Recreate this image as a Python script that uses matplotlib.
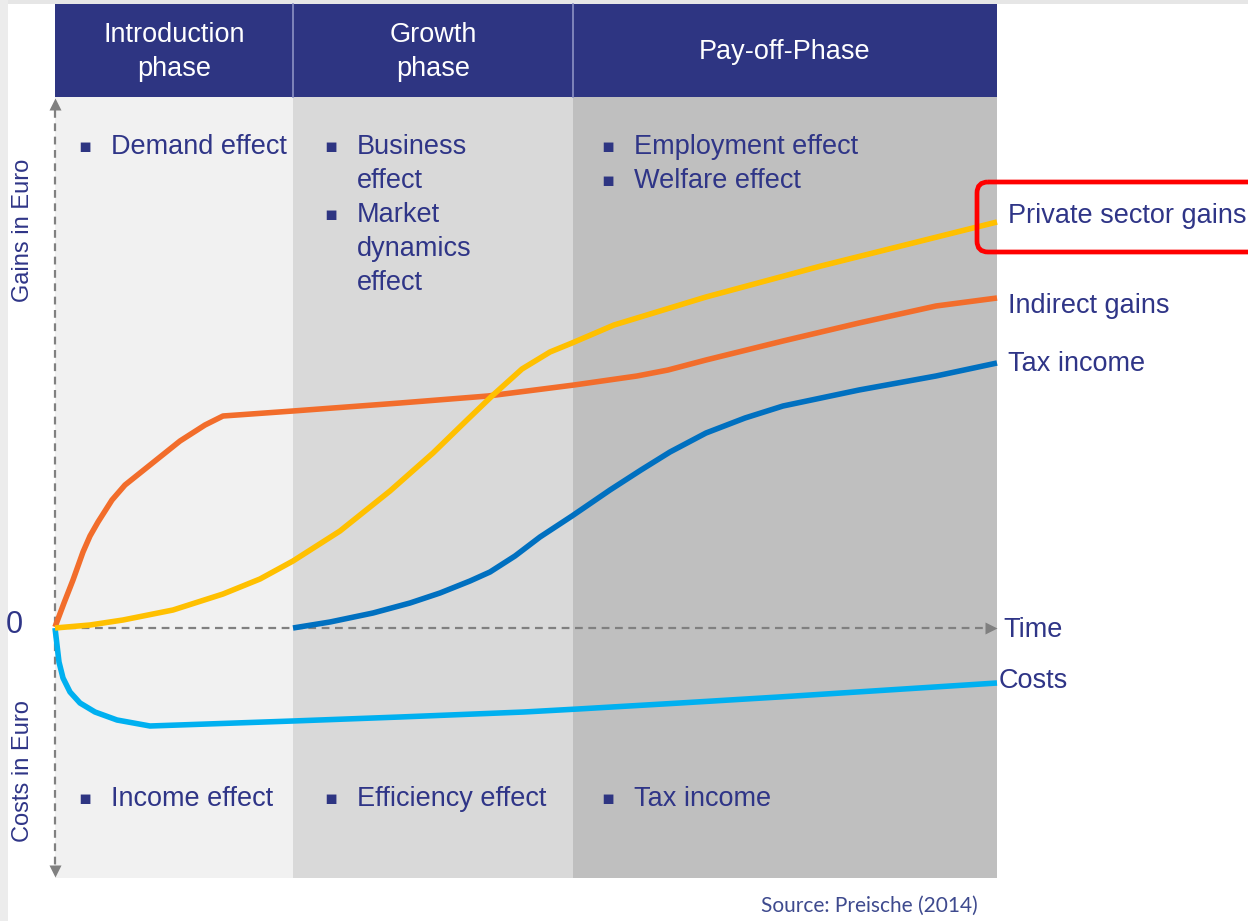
import matplotlib
matplotlib.use('Agg')
import matplotlib.pyplot as plt
from matplotlib.patches import Rectangle, FancyBboxPatch

# phases (time units)
phase_names = ['Introduction\nphase', 'Growth\nphase', 'Pay-off-Phase']
phase_edges = [0, 23.8, 51.8, 94.2]
phase_colors = ['#F1F1F1', '#D9D9D9', '#BFBFBF']

gain_bullets = [['Demand effect'],
                ['Business\neffect', 'Market\ndynamics\neffect'],
                ['Employment effect', 'Welfare effect']]
cost_bullets = ['Income effect', 'Efficiency effect', 'Tax income']

# curves: time vs. value (gains > 0, costs < 0)
indirect_t = [0, 0.9, 1.8, 2.8, 3.5, 4.3, 5.7, 7.0, 9.5, 12.5, 15.0, 16.8, 23.8, 34.5,
              43.3, 51.9, 58.2, 61.3, 65.1, 72.8, 80.4, 88.1, 94.2]
indirect_v = [0.1, 2.5, 4.8, 7.6, 9.2, 10.6, 12.8, 14.3, 16.3, 18.7, 20.3, 21.2, 21.7, 22.5,
              23.2, 24.3, 25.2, 25.8, 26.8, 28.7, 30.5, 32.2, 33.0]

private_t = [0, 3.5, 6.8, 11.8, 16.8, 20.5, 23.8, 28.5, 33.5, 37.8, 41.2, 43.7, 46.7,
             49.5, 51.7, 55.9, 60.5, 65.1, 76.6, 94.2]
private_v = [0, 0.3, 0.8, 1.8, 3.4, 4.9, 6.7, 9.7, 13.7, 17.5, 20.8, 23.2, 25.9,
             27.6, 28.5, 30.3, 31.7, 33.1, 36.2, 40.6]

tax_t = [23.8, 27.5, 31.8, 35.5, 38.5, 41.5, 43.5, 46.0, 48.5, 51.7, 55.5, 58.6, 61.5,
         65.1, 69.0, 72.8, 80.4, 88.1, 94.2]
tax_v = [0, 0.6, 1.5, 2.5, 3.5, 4.7, 5.6, 7.2, 9.1, 11.2, 13.8, 15.8, 17.6,
         19.5, 21.0, 22.2, 23.8, 25.2, 26.5]

costs_t = [0, 0.2, 0.4, 0.8, 1.5, 2.5, 4.0, 6.2, 9.5, 23.8, 34.5, 46.9, 52.3, 62.5, 72.4, 94.2]
costs_v = [0, -1.7, -3.4, -5.0, -6.4, -7.5, -8.4, -9.2, -9.8, -9.3, -8.9, -8.4, -8.1,
           -7.5, -6.9, -5.5]

NAVY = '#2E3582'
TXT = '#2F3587'
FONT = ['Liberation Sans', 'DejaVu Sans']
plt.rcParams['font.family'] = FONT

W, H = 1248, 921
fig = plt.figure(figsize=(W / 100, H / 100), dpi=100)
fig.patch.set_facecolor('white')

# main plotting area
left, right, top, bottom = 55, 997, 97, 878
ax = fig.add_axes([left / W, (H - bottom) / H, (right - left) / W, (bottom - top) / H])
ax.set_zorder(1)
ax.set_xlim(phase_edges[0], phase_edges[-1])
ax.set_ylim(-25.0, 53.1)
ax.axis('off')

# overlay in pixel coordinates for header / texts (drawn on top)
ov = fig.add_axes([0, 0, 1, 1])
ov.set_xlim(0, W)
ov.set_ylim(H, 0)
ov.axis('off')
ov.set_zorder(2)

# background strips of the slide
fig.patches.append(Rectangle((0, 1 - 4 / H), 1, 4 / H, transform=fig.transFigure,
                             color='#E6E6E6', lw=0, zorder=0))
fig.patches.append(Rectangle((0, 0), 8 / W, 1, transform=fig.transFigure,
                             color='#ECECEC', lw=0, zorder=0))

for i in range(3):
    ax.axvspan(phase_edges[i], phase_edges[i + 1], color=phase_colors[i], lw=0, zorder=0)


def to_px(t):
    return left + (right - left) * (t - phase_edges[0]) / (phase_edges[-1] - phase_edges[0])


# header band
ov.add_patch(Rectangle((left, 4), right - left, top - 4, color=NAVY, lw=0))
for i, name in enumerate(phase_names):
    a, b = to_px(phase_edges[i]), to_px(phase_edges[i + 1])
    ov.text((a + b) / 2, 52, name, color='white', fontsize=19.5, ha='center', va='center',
            linespacing=1.42)
    if i > 0:
        ov.plot([a, a], [4, top], color='#8C92C4', lw=1.2)

# bullets
bullet_x = [85, 331, 608]
text_x = [111, 357, 634]
for i, items in enumerate(gain_bullets):
    line = 0
    for item in items:
        ov.text(bullet_x[i], 146 + 34 * line, '\u25aa', color=NAVY, fontsize=14,
                ha='center', va='center', family=['DejaVu Sans'])
        for part in item.split('\n'):
            ov.text(text_x[i], 147 + 34 * line, part, color=TXT, fontsize=19.5,
                    ha='left', va='center')
            line += 1

for i, item in enumerate(cost_bullets):
    ov.text(bullet_x[i], 798, '\u25aa', color=NAVY, fontsize=14, ha='center', va='center',
            family=['DejaVu Sans'])
    ov.text(text_x[i], 799, item, color=TXT, fontsize=19.5, ha='left', va='center')

# axes (dashed arrows)
grey = '#808080'
ax.plot([0, 0], [51.8, -23.8], color=grey, lw=1.6, ls=(0, (3.5, 2.5)), clip_on=False, zorder=2)
ax.plot([0], [52.4], marker='^', ms=9, color=grey, mec='none', clip_on=False, zorder=2)
ax.plot([0], [-24.3], marker='v', ms=9, color=grey, mec='none', clip_on=False, zorder=2)
ax.plot([0, 93.0], [0, 0], color=grey, lw=1.6, ls=(0, (3.5, 2.5)), clip_on=False, zorder=2)
ax.plot([93.6], [0], marker='>', ms=9, color=grey, mec='none', clip_on=False, zorder=2)

# curves
lw = 4.0
ax.plot(costs_t, costs_v, color='#00B0F0', lw=lw, solid_capstyle='butt',
        solid_joinstyle='round', clip_on=False, zorder=3)
ax.plot(indirect_t, indirect_v, color='#F26D2B', lw=lw, solid_capstyle='butt',
        solid_joinstyle='round', clip_on=False, zorder=3)
ax.plot(tax_t, tax_v, color='#0070C0', lw=lw, solid_capstyle='butt',
        solid_joinstyle='round', clip_on=False, zorder=3)
ax.plot(private_t, private_v, color='#FFC000', lw=lw, solid_capstyle='butt',
        solid_joinstyle='round', clip_on=False, zorder=4)

# end labels
labels = [('Private sector gains', private_t, private_v, 11, 6),
          ('Indirect gains', indirect_t, indirect_v, 11, -8),
          ('Tax income', tax_t, tax_v, 11, -1),
          ('Costs', costs_t, costs_v, 2, 2)]
for text, t, v, dx, dy in labels:
    ax.annotate(text, xy=(t[-1], v[-1]), xytext=(dx, dy), textcoords='offset pixels',
                color=TXT, fontsize=19.5, ha='left', va='center', annotation_clip=False)
ax.annotate('Time', xy=(phase_edges[-1], 0), xytext=(6, -2), textcoords='offset pixels',
            color=TXT, fontsize=19.5, ha='left', va='center', annotation_clip=False)

# highlight box round "Private sector gains"
ov.add_patch(FancyBboxPatch((977, 182), 320, 70, boxstyle='round,pad=0,rounding_size=11',
                            fill=False, ec='#FF0000', lw=3.4, clip_on=False, zorder=5))

# axis titles
ov.text(14, 625, '0', color=TXT, fontsize=22, ha='center', va='center')
ov.text(23, 230, 'Gains in Euro', color=TXT, fontsize=17, rotation=90, ha='center', va='center')
ov.text(23, 771, 'Costs in Euro', color=TXT, fontsize=17, rotation=90, ha='center', va='center')

ov.text(978, 906, 'Source: Preische (2014)', color='#3E4A8E', fontsize=15, ha='right',
        va='center', family=['Lato', 'DejaVu Sans'])

fig.savefig('out.png', dpi=100, facecolor='white')
